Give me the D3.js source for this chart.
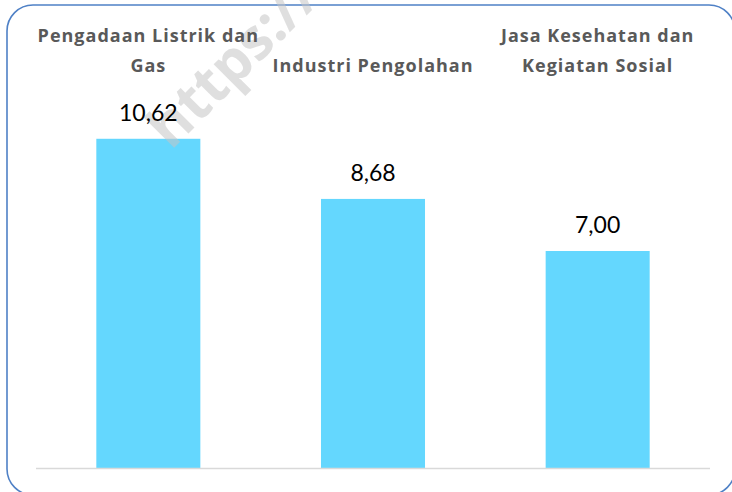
<!DOCTYPE html>
<html><head><meta charset="utf-8">
<script src="https://cdn.jsdelivr.net/npm/d3@7"></script>
<style>html,body{margin:0;padding:0;background:#fff;}svg{display:block;}</style>
</head><body>
<svg id="c" width="732" height="492"></svg>
<script>
const categories = [["Pengadaan Listrik dan","Gas"],["Industri Pengolahan"],["Jasa Kesehatan dan","Kegiatan Sosial"]];
const values = [10.62, 8.68, 7.00];
const valueLabels = ["10,62","8,68","7,00"];
const keys = ["a","b","c"];

const svg = d3.select("#c");
const x = d3.scaleBand().domain(keys).range([36, 710]).paddingInner(0.537).paddingOuter(0.2685);
const y = d3.scaleLinear().domain([0, 12]).range([468, 96]);

svg.append("rect").attr("x",7).attr("y",5).attr("width",728).attr("height",490)
  .attr("rx",26).attr("ry",26).attr("fill","#fff").attr("stroke","#4f81c6").attr("stroke-width",1.6);

svg.append("g").selectAll("rect").data(values).join("rect")
  .attr("x",(d,i)=>x(keys[i])).attr("width",x.bandwidth())
  .attr("y",d=>y(d)).attr("height",d=>y(0)-y(d)).attr("fill","#64d7fe");

svg.append("line").attr("x1",36).attr("x2",710).attr("y1",y(0)+0.5).attr("y2",y(0)+0.5)
  .attr("stroke","#d9d9d9").attr("stroke-width",1.6);

svg.append("text").attr("transform","translate(171,151) rotate(-45)")
  .attr("font-family","Open Sans, sans-serif").attr("font-weight","bold")
  .attr("font-size",57).attr("fill","#c4c4c4").attr("fill-opacity",0.55)
  .text("https://");

svg.append("g").selectAll("text").data(valueLabels).join("text")
  .attr("x",(d,i)=>x(keys[i])+x.bandwidth()/2).attr("y",(d,i)=>y(values[i])-18)
  .attr("text-anchor","middle").attr("font-family","Lato, sans-serif").attr("font-size",23)
  .attr("fill","#000").text(d=>d);

const lg = svg.append("g").attr("font-family","Open Sans, sans-serif").attr("font-weight","bold")
  .attr("font-size",18).attr("letter-spacing","1px").attr("fill","#595959").attr("text-anchor","middle");
categories.forEach((lines,i)=>{
  const cx = x(keys[i])+x.bandwidth()/2;
  const n = lines.length;
  lines.forEach((t,j)=>{
    lg.append("text").attr("x",cx).attr("y",72-(n-1-j)*30).text(t);
  });
});
</script>
</body></html>
